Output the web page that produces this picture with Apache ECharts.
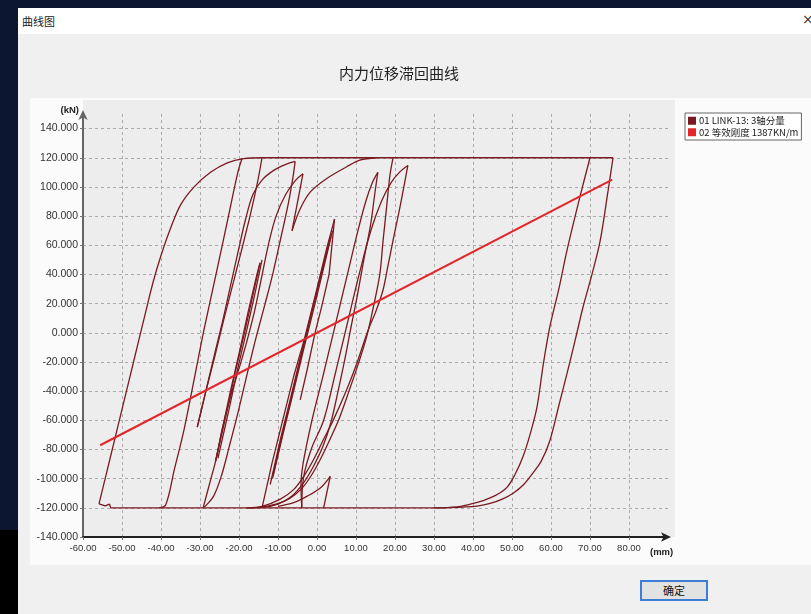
<!DOCTYPE html>
<html>
<head>
<meta charset="utf-8">
<script src="https://cdn.jsdelivr.net/npm/echarts@6/dist/echarts.min.js"></script>
<style>
  html, body { margin: 0; padding: 0; width: 811px; height: 614px; overflow: hidden; background: #0c1631; }
  .abs { position: absolute; }
  #corner { left: 0; top: 530px; width: 18px; height: 84px; background: #000; }
  #dialog { left: 18px; top: 8px; width: 793px; height: 606px; background: #f0f0f0; }
  #titlebar { left: 18px; top: 8px; width: 793px; height: 26px; background: #fff;
    font: 11px "Noto Sans CJK SC", sans-serif; color: #222; }
  #titlebar span { position: absolute; left: 4px; top: 5px; }
  #closeX { left: 802px; top: 11px; font: 14px "DejaVu Sans", sans-serif; color: #333; }
  #panel { left: 30px; top: 98px; width: 781px; height: 467px; background: #fbfbfb; }
  #plotbg { left: 83px; top: 100px; width: 592px; height: 437px; background: #ededed; }
  #okBtn { left: 640px; top: 580px; width: 64px; height: 17px; border: 2px solid #3c7dd6; background: #e2e2e2;
    font: 11px "Noto Sans CJK SC", sans-serif; color: #111; text-align: center; line-height: 17px; }
  #chart { position: absolute; left: 0; top: 0; width: 811px; height: 614px; }
</style>
</head>
<body>
<div id="corner" class="abs"></div>
<div id="dialog" class="abs"></div>
<div id="titlebar" class="abs"><span>曲线图</span></div>
<div id="closeX" class="abs">×</div>
<div id="panel" class="abs"></div>
<div id="plotbg" class="abs"></div>
<div id="okBtn" class="abs">确定</div>
<div id="chart"></div>
<script>
// Hysteresis branches of LINK-13 (displacement mm, force kN)
// straight pieces: plateaus, elastic reversals, short spikes
const bottomRun = [[32.3,-120],[-52.9,-120],[-53.2,-117.5],[-54.3,-118.7],[-55.9,-117.3]];
const topRun = [[-14.1,120],[75.9,120]];
const leftBundleUp = [[-26,-88],[-23.2,-55],[-20.8,-25],[-18.6,0],[-16.5,25],[-14.6,48]];
const leftBundleDown = [[-14.6,48],[-15.4,40],[-17.6,15],[-19.8,-12],[-22.2,-40],[-24.6,-70],[-26,-88]];
const leftBundleRepeat = [[-25.4,-86],[-22.6,-53],[-20.2,-23],[-18,2],[-15.9,27],[-14.1,50]];
const notchDown = [[-3.6,109],[-6.4,70]];
const centerUp = [[-14.1,-120],[-11.5,-89],[-8.8,-60],[-6,-30],[-3.4,-6],[-0.5,25],[2.5,58],[4.5,78]];
const centerDown = [[4.5,78],[3.1,40],[1.2,18],[-0.5,0],[-2.5,-25],[-4.3,-46]];
const centerBundleUp = [[-12,-104],[-9.3,-72],[-6.7,-44],[-4,-14],[-1.2,16],[1.5,45],[3.5,66]];
const centerBundleDown = [[3.5,66],[2,50],[-0.8,20],[-3.5,-10],[-6.2,-40],[-8.9,-70],[-11.3,-98]];
const centerBundleRepeat = [[-11.4,-100],[-8.6,-68],[-6,-40],[-3.3,-10],[-0.5,20],[2.2,50],[4,70]];
const spikeUp = [[1.7,-120],[3.4,-98.4]];

// curved pieces: loading / unloading branches with yield knees
const leftLoadUp = [[-55.9,-117.3],[-54,-96.5],[-52,-74.5],[-50,-52.5],[-48,-30.5],[-46,-8.5],[-44,13.5],[-42,35],[-40,53],[-37.5,72],[-34.9,88],[-31.5,100],[-27.3,110],[-23,116.5],[-18.8,119.4],[-14.1,120]];
const leftDrop = [[-19.2,119.7],[-20.3,110],[-22.7,80],[-25.9,40],[-29,1.8],[-31.5,-32],[-34.1,-66.5],[-36.6,-94],[-38.8,-118],[-40.5,-120]];
const leftUnload = [[-14.1,120],[-15.2,104],[-17,82],[-19.5,55],[-21.7,32],[-24,8],[-26,-14],[-28.3,-38],[-30.7,-64.7]];
const leftReload = [[-30.7,-64.7],[-28.5,-40],[-26.2,-14],[-24.2,8],[-22.2,32],[-20.2,56],[-18.3,78],[-16.4,95],[-14,105],[-11,111.5],[-8,115.5],[-5.6,117.5]];
const midLoadUp = [[-29.2,-120],[-27.3,-101],[-26,-88],[-24.3,-66],[-22.2,-44],[-19.6,-21],[-17.9,-5],[-16,15],[-14.2,38],[-12.5,60],[-10.5,80],[-8,95],[-5.5,104.5],[-3.6,109]];
const midUnload = [[-5.6,117.5],[-6.2,106],[-7.4,88],[-9.2,66],[-11.2,42],[-13.3,20],[-15.6,-3],[-17.8,-27],[-20.2,-54],[-22.5,-78],[-24.5,-98],[-26.5,-112],[-28.5,-118.5],[-29.2,-120]];
const notchUp = [[-6.4,70],[-4.3,85],[-1.7,96.6],[2.5,105.8],[7.6,113.8],[11,118.4],[15.3,120]];
const rightLoadA = [[-3.9,-120],[-4.1,-104],[-3.6,-90],[-1.3,-60],[1.5,-30],[4.2,0],[7.8,40],[10.5,70],[12.5,90],[14.2,103],[15.6,110]];
const rightDropA = [[15.6,110],[14.8,95],[13.8,75],[12,50],[10.3,25],[8.8,5],[7,-20],[5,-45],[3.5,-62],[1.5,-78],[-1,-92],[-3.5,-103],[-6.5,-112],[-10,-117.5],[-14,-119.7],[-18,-120]];
const rightLoadB = [[-3.9,-120],[-3.5,-100],[-1.5,-80],[1.7,-60],[4.5,-30],[7.2,0],[10.8,40],[13.8,70],[16.5,90],[19,103],[21.3,110.5],[23.3,114.7]];
const rightDropB = [[23.3,114.7],[22.1,97.6],[20.8,80],[19.5,63.4],[18.2,46],[16.9,29],[15,14],[13.1,1.8],[10.2,-21],[7.6,-39],[4.2,-59.7],[1.7,-73],[-0.9,-87],[-3.4,-98.4],[-6,-107.5],[-9.4,-114],[-14.1,-119],[-18,-120]];
const rightDropC = [[19.5,120],[18.7,108],[17.8,85],[16.9,62],[16.1,40],[14.4,17],[12.7,-3],[10.5,-22],[8.2,-40],[5.8,-58],[3.5,-72],[1,-86],[-1.5,-98],[-4,-107],[-7,-113.5],[-10.5,-117.5],[-15,-119.7]];
const spikeDown = [[3.4,-98.4],[1,-106],[-2.5,-112],[-6,-116.5],[-10,-119]];
const outerDrop70 = [[70,120],[67.4,93],[64.1,56.5],[62,30],[59.7,4],[58,-22],[56.4,-51],[54.6,-70],[52.8,-85],[50.8,-97],[48.7,-106],[45.8,-111.5],[42.6,-115],[39.3,-117.5],[35.9,-119.3],[30,-120]];
const outerDrop76 = [[75.9,120],[74.5,95],[72.6,63],[70.5,40],[68.2,17.5],[66.2,-5],[64.1,-28],[62,-50],[59.7,-74],[57.5,-88],[55.4,-96],[53,-104],[50.3,-110],[47.5,-114],[44.4,-117],[41,-118.8],[37.4,-119.5],[32.3,-120]];

// Equivalent stiffness line (1387 kN/m = 1.387 kN/mm)
const stiffnessLine = [[-55.6,-77.1],[75.7,105.0]];

const linkName = '01 LINK-13: 3轴分量';
const stiffName = '02 等效刚度 1387KN/m';

const straightBranches = [
  bottomRun, topRun, leftBundleUp, leftBundleDown, leftBundleRepeat, notchDown,
  centerUp, centerDown, centerBundleUp, centerBundleDown, centerBundleRepeat, spikeUp
];
const curvedBranches = [
  leftLoadUp, leftDrop, leftUnload, leftReload, midLoadUp, midUnload, notchUp,
  rightLoadA, rightDropA, rightLoadB, rightDropB, rightDropC, spikeDown,
  outerDrop70, outerDrop76
];

const linkColor = '#7a1a20';
const stiffColor = '#e2262b';
const font = '"Liberation Sans", Arial, sans-serif';

function branchSeries(branch, smooth) {
  return {
    name: linkName,
    type: 'line',
    data: branch,
    smooth: smooth,
    showSymbol: false,
    symbol: 'none',
    lineStyle: { color: linkColor, width: 1.3 },
    itemStyle: { color: linkColor },
    z: 2
  };
}

const series = straightBranches.map(function (b) { return branchSeries(b, false); })
  .concat(curvedBranches.map(function (b) { return branchSeries(b, 0.35); }));
series.push({
  name: stiffName,
  type: 'line',
  data: stiffnessLine,
  showSymbol: false,
  symbol: 'none',
  lineStyle: { color: stiffColor, width: 2 },
  itemStyle: { color: stiffColor },
  z: 3
});

const chart = echarts.init(document.getElementById('chart'), null, { renderer: 'canvas' });
chart.setOption({
  animation: false,
  backgroundColor: 'transparent',
  title: {
    text: '内力位移滞回曲线',
    left: 334,
    top: 61,
    textStyle: { fontSize: 15, fontWeight: 'normal', color: '#222', fontFamily: '"Noto Sans CJK SC", sans-serif' }
  },
  legend: {
    data: [linkName, stiffName],
    orient: 'vertical',
    left: 685,
    top: 113,
    icon: 'rect',
    itemWidth: 8,
    itemHeight: 8,
    itemGap: 2,
    padding: [3, 3, 3, 3],
    backgroundColor: '#fff',
    borderColor: '#666',
    borderWidth: 1,
    borderRadius: 0,
    textStyle: { fontSize: 9.5, color: '#222', fontFamily: '"Noto Sans CJK SC", sans-serif', padding: [0, 0, 0, -2] }
  },
  grid: { left: 83, right: 143, top: 114, bottom: 77, containLabel: false },
  xAxis: {
    type: 'value',
    min: -60,
    max: 90,
    interval: 10,
    name: '(mm)',
    nameLocation: 'end',
    nameGap: -18,
    nameTextStyle: { fontSize: 9.5, fontWeight: 'bold', color: '#222', fontFamily: font, align: 'left', verticalAlign: 'top', padding: [10, 0, 0, 0] },
    axisLine: { show: true, onZero: false, symbol: ['none', 'arrow'], symbolSize: [7, 10], symbolOffset: [0, 3], lineStyle: { color: '#222', width: 2 } },
    axisTick: { show: true, length: 3, lineStyle: { color: '#777' } },
    axisLabel: {
      fontSize: 9.5, color: '#333', fontFamily: font, margin: 6,
      showMaxLabel: false,
      formatter: function (v) { return v.toFixed(2); }
    },
    splitLine: { show: true, showMinLine: false, showMaxLine: false, lineStyle: { color: '#aaaaaa', width: 1, type: [3, 3] } }
  },
  yAxis: {
    type: 'value',
    min: -140,
    max: 150,
    interval: 20,
    name: '(kN)',
    nameLocation: 'end',
    nameGap: 4,
    nameTextStyle: { fontSize: 9.5, fontWeight: 'bold', color: '#222', fontFamily: font, align: 'right', verticalAlign: 'middle', padding: [0, 4, 0, 0] },
    axisLine: { show: true, onZero: false, symbol: ['none', 'arrow'], symbolSize: [7, 10], symbolOffset: [0, 4], lineStyle: { color: '#666', width: 2 } },
    axisTick: { show: true, length: 3, lineStyle: { color: '#777' } },
    axisLabel: {
      fontSize: 10.5, color: '#333', fontFamily: font, margin: 5,
      showMaxLabel: false,
      formatter: function (v) { return v.toFixed(3); }
    },
    splitLine: { show: true, showMinLine: false, showMaxLine: false, lineStyle: { color: '#aaaaaa', width: 1, type: [3, 3] } }
  },
  series: series
});
</script>
</body>
</html>
